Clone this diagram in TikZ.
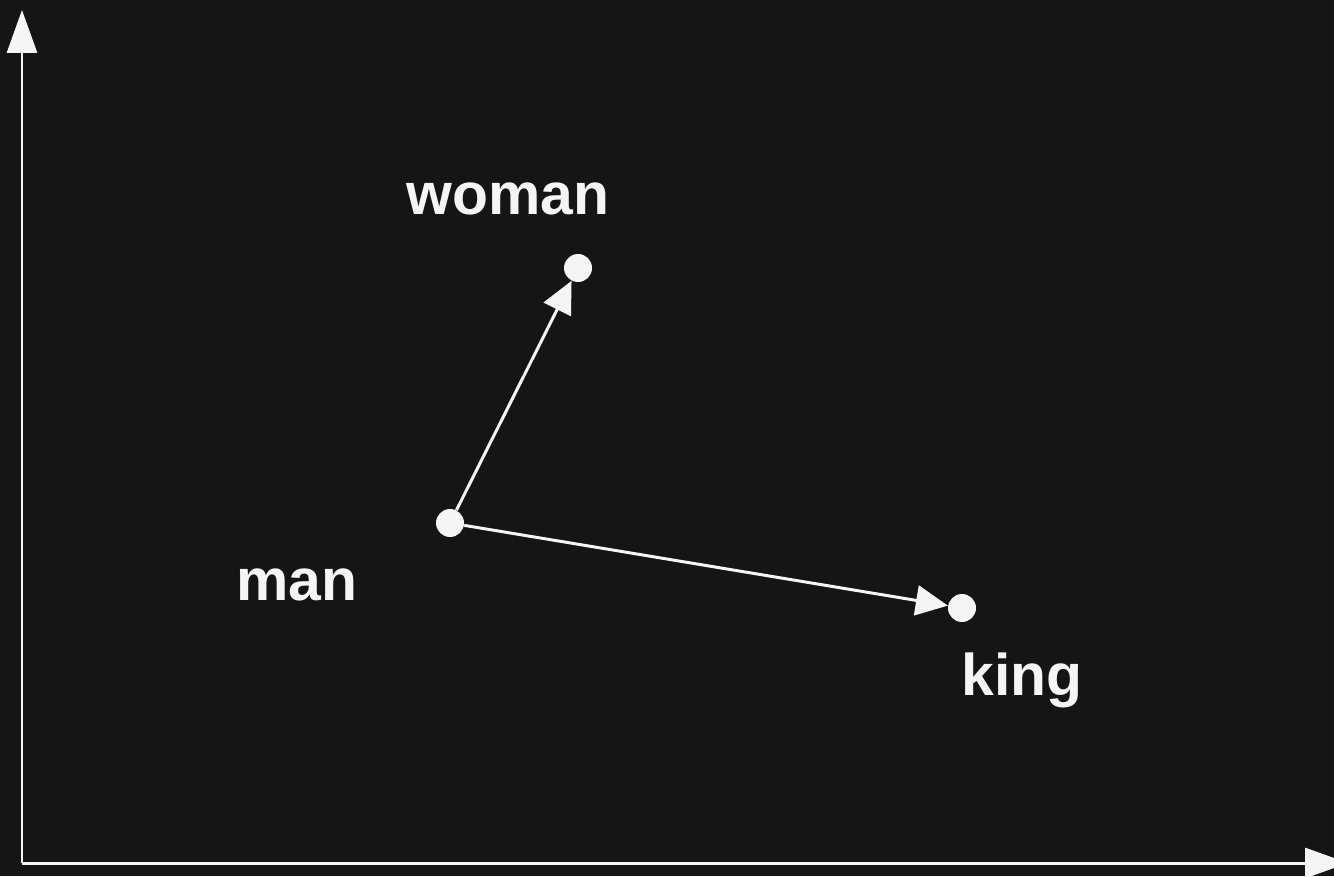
\documentclass[tikz,border=0pt]{standalone}
\usepackage{fontspec}
\setmainfont{Liberation Sans}
\usepackage{tikz}
\usetikzlibrary{arrows.meta}
\definecolor{PlotBg}{HTML}{151515}
\definecolor{PlotInk}{HTML}{F5F5F5}

\begin{document}
\begin{tikzpicture}[x=0.02cm,y=0.02cm,>={Triangle[length=0.64cm,width=0.6cm]}]
  \tikzstyle{word}=[circle,fill=PlotInk,inner sep=0pt,minimum size=0.56cm]
  \tikzstyle{lbl}=[text=PlotInk,anchor=base,inner sep=0pt,
    font=\fontsize{33.5}{40}\selectfont\bfseries]
  \fill[PlotBg] (0,0) rectangle (1334,876);
  \useasboundingbox (0,0) rectangle (1334,876);
  % axes
  \coordinate (o) at (22,13);
  \coordinate (ytop) at (22,866);
  \coordinate (xend) at (1348,13);
  \draw[-{Triangle[length=0.86cm,width=0.6cm]},line width=1.7pt,color=PlotInk] (o)--(ytop);
  \draw[-{Triangle[length=0.86cm,width=0.6cm]},line width=1.7pt,color=PlotInk] (o)--(xend);
  % word vectors
  \node[word] (man) at (450,353) {};
  \node[word] (woman) at (578,608) {};
  \node[word] (king) at (962,268) {};
  \node[lbl] (manl) at (297,276) {man};
  \node[lbl] (womanl) at (508,661) {woman};
  \node[lbl] (kingl) at (1022,181) {king};
  \draw[->,line width=1.7pt,color=PlotInk] (man)--(woman);
  \draw[->,line width=1.7pt,color=PlotInk] (man)--(king);
\end{tikzpicture}
\end{document}
